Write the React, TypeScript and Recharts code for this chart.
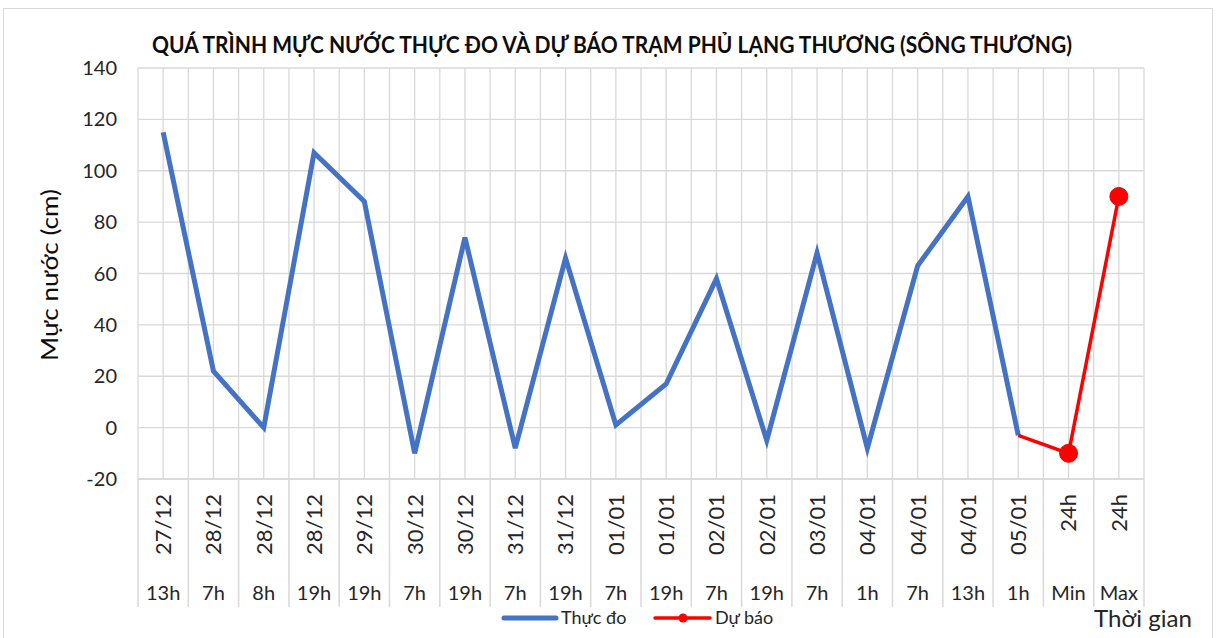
import React from "react";
import { LineChart, Line, XAxis, YAxis, CartesianGrid, Legend } from "recharts";

const dates = ["27/12","28/12","28/12","28/12","29/12","30/12","30/12","31/12","31/12","01/01","01/01","02/01","02/01","03/01","04/01","04/01","04/01","05/01","24h","24h"];
const hours = ["13h","7h","8h","19h","19h","7h","19h","7h","19h","7h","19h","7h","19h","7h","1h","7h","13h","1h","Min","Max"];
const thucDo: (number | null)[] = [115,22,0,107,88,-10,74,-8,66,1,17,58,-5,68,-8,63,90,-3,null,null];
const duBao: (number | null)[] = [null,null,null,null,null,null,null,null,null,null,null,null,null,null,null,null,null,-3,-10,90];
const yTicks = [-20,0,20,40,60,80,100,120,140];

const TITLE = "QUÁ TRÌNH MỰC NƯỚC THỰC ĐO VÀ DỰ BÁO TRẠM PHỦ LẠNG THƯƠNG (SÔNG THƯƠNG)";
const Y_LABEL = "Mực nước (cm)";
const X_LABEL = "Thời gian";
const NAME_TD = "Thực đo";
const NAME_DB = "Dự báo";

const data = dates.map((d, i) => ({ x: i, date: d, hour: hours[i], thucDo: thucDo[i], duBao: duBao[i] }));
const xTicks: number[] = [];
for (let i = -0.5; i <= dates.length - 0.5 + 1e-9; i += 0.5) xTicks.push(i);

const FONT = "Lato, 'Open Sans', sans-serif";
const TXT = "#262626";
const GRID = "#d9d9d9";
const BLUE = "#4472C4";
const RED = "#FF0000";
const PLOT_BOTTOM = 479;

const XTick = (props: any) => {
  const { x, payload } = props;
  const v = payload.value as number;
  if (Math.abs(v - Math.round(v)) > 0.01) {
    return <line x1={x} y1={PLOT_BOTTOM} x2={x} y2={607} stroke={GRID} strokeWidth={1.5} />;
  }
  const i = Math.round(v);
  if (i < 0 || i >= dates.length) return <g />;
  return (
    <g>
      <text
        x={x}
        y={494}
        transform={`rotate(-90, ${x}, 494)`}
        textAnchor="end"
        dy="0.36em"
        fontSize={22}
        fontFamily={FONT}
        fill={TXT}
      >
        {dates[i]}
      </text>
      <text x={x} y={600} textAnchor="middle" fontSize={20} fontFamily={FONT} fill={TXT}>
        {hours[i]}
      </text>
    </g>
  );
};

const RedDot = (props: any) => {
  const { cx, cy, payload } = props;
  if (payload.thucDo != null && cx != null) {
    return <g />;
  }
  return <circle cx={cx} cy={cy} r={9} fill={RED} stroke={RED} />;
};

const LegendContent = () => (
  <div style={{ position: "relative", height: 24, width: 1217, fontFamily: FONT, fontSize: 18, color: TXT }}>
    <svg width={1217} height={24} style={{ position: "absolute", left: 0, top: 0 }}>
      <line x1={504} y1={12} x2={556} y2={12} stroke={BLUE} strokeWidth={5} strokeLinecap="round" />
      <line x1={655} y1={12} x2={710} y2={12} stroke={RED} strokeWidth={3.5} strokeLinecap="round" />
      <circle cx={683} cy={12} r={4.5} fill={RED} />
      <text x={561} y={18} fontSize={18} fontFamily={FONT} fill={TXT}>{NAME_TD}</text>
      <text x={715} y={18} fontSize={18} fontFamily={FONT} fill={TXT}>{NAME_DB}</text>
    </svg>
  </div>
);

export default function App() {
  return (
    <div style={{ position: "absolute", left: 0, top: 0, width: 1217, height: 638, background: "#fff", overflow: "hidden" }}>
      <div style={{ position: "absolute", left: 3, top: 8, width: 1210, height: 640, border: `1px solid ${GRID}`, boxSizing: "border-box" }} />
      <LineChart
        width={1217}
        height={638}
        data={data}
        margin={{ top: 68, right: 73, left: 58, bottom: 8 }}
      >
        <CartesianGrid stroke={GRID} strokeWidth={1.3} />
        <XAxis
          dataKey="x"
          type="number"
          domain={[-0.5, dates.length - 0.5]}
          ticks={xTicks}
          interval={0}
          height={127}
          tick={<XTick />}
          tickLine={false}
          axisLine={{ stroke: GRID, strokeWidth: 1.5 }}
          allowDecimals
        />
        <YAxis
          type="number"
          domain={[-20, 140]}
          ticks={yTicks}
          interval={0}
          width={80}
          tickLine={false}
          axisLine={false}
          tickMargin={15}
          tick={{ fontSize: 20, fontFamily: FONT, fill: TXT }}
        />
        <Legend verticalAlign="bottom" content={<LegendContent />} wrapperStyle={{ left: 0, width: 1217, height: 24 }} />
        <Line
          type="linear"
          dataKey="thucDo"
          name={NAME_TD}
          stroke={BLUE}
          strokeWidth={5}
          dot={false}
          activeDot={false}
          isAnimationActive={false}
        />
        <Line
          type="linear"
          dataKey="duBao"
          name={NAME_DB}
          stroke={RED}
          strokeWidth={3.5}
          dot={<RedDot />}
          activeDot={false}
          isAnimationActive={false}
        />
      </LineChart>
      <svg width={1217} height={638} style={{ position: "absolute", left: 0, top: 0, pointerEvents: "none" }}>
        <text x={152} y={53} textLength={920} lengthAdjust="spacingAndGlyphs" fontSize={22} fontWeight="bold" fontFamily={FONT} fill="#0d0d0d">
          {TITLE}
        </text>
        <text
          x={50}
          y={275}
          transform="rotate(-90, 50, 275)"
          textAnchor="middle"
          dy="0.36em"
          fontSize={23}
          textLength={172}
          lengthAdjust="spacingAndGlyphs"
          fontFamily={FONT}
          fill="#0d0d0d"
        >
          {Y_LABEL}
        </text>
        <text x={1094} y={627} fontSize={24} fontFamily={FONT} fill={TXT} textLength={98} lengthAdjust="spacingAndGlyphs">
          {X_LABEL}
        </text>
      </svg>
    </div>
  );
}
